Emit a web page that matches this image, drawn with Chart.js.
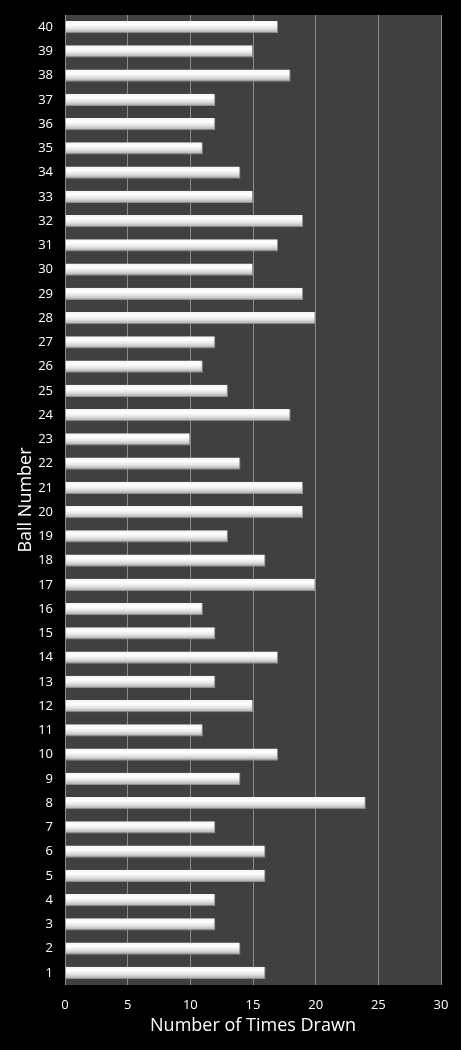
<!DOCTYPE html>
<html lang="en">
<head>
  <meta charset="UTF-8">
  <title>Ball Number Frequency</title>
  <script src="https://cdn.jsdelivr.net/npm/chart.js"></script>
  <style>
    html, body {
      margin: 0;
      padding: 0;
      background: #000;
    }
    .chart-wrap {
      width: 461px;
      height: 1050px;
      position: relative;
    }
  </style>
</head>
<body>
  <div class="chart-wrap">
    <canvas id="ballChart"></canvas>
  </div>
  <script>
    // balls 1..40 and how often each one came up
    const balls = [1, 2, 3, 4, 5, 6, 7, 8, 9, 10,
                   11, 12, 13, 14, 15, 16, 17, 18, 19, 20,
                   21, 22, 23, 24, 25, 26, 27, 28, 29, 30,
                   31, 32, 33, 34, 35, 36, 37, 38, 39, 40];
    const timesDrawn = [16, 14, 12, 12, 16, 16, 12, 24, 14, 17,
                        11, 15, 12, 17, 12, 11, 20, 16, 13, 19,
                        19, 14, 10, 18, 13, 11, 12, 20, 19, 15,
                        17, 19, 15, 14, 11, 12, 12, 18, 15, 17];
    const xTicks = [0, 5, 10, 15, 20, 25, 30];

    const fontFam = "'Open Sans', 'DejaVu Sans', sans-serif";

    // dark plot area behind the bars
    const plotBg = {
      id: 'plotBg',
      beforeDraw(chart) {
        const a = chart.chartArea;
        const ctx = chart.ctx;
        ctx.save();
        ctx.fillStyle = '#404040';
        ctx.fillRect(a.left, a.top, a.right - a.left, a.bottom - a.top);
        ctx.restore();
      }
    };

    function barFill(context) {
      const chart = context.chart;
      const y = chart.scales.y;
      if (!y || !chart.chartArea) return '#e0e0e0';
      const cy = y.getPixelForValue(context.dataIndex);
      const g = chart.ctx.createLinearGradient(0, cy - 6, 0, cy + 6);
      g.addColorStop(0, '#f4f4f4');
      g.addColorStop(0.3, '#ffffff');
      g.addColorStop(0.6, '#e6e6e6');
      g.addColorStop(1, '#a8a8a8');
      return g;
    }

    new Chart(document.getElementById('ballChart').getContext('2d'), {
      type: 'bar',
      data: {
        labels: balls,
        datasets: [{
          label: 'Number of Times Drawn',
          data: timesDrawn,
          backgroundColor: barFill,
          borderColor: '#8f8f8f',
          borderWidth: { top: 0, right: 1, bottom: 1, left: 0 },
          borderSkipped: 'start',
          categoryPercentage: 1,
          barPercentage: 0.5
        }]
      },
      options: {
        indexAxis: 'y',
        responsive: true,
        maintainAspectRatio: false,
        animation: false,
        layout: { padding: { top: 15, right: 20, bottom: 0, left: 0 } },
        plugins: {
          legend: { display: false },
          tooltip: { enabled: false }
        },
        scales: {
          x: {
            min: 0,
            max: 30,
            afterBuildTicks(scale) {
              scale.ticks = xTicks.map(v => ({ value: v }));
            },
            afterFit(scale) { scale.height = 65; },
            grid: { color: '#8c8c8c', lineWidth: 1, drawTicks: false },
            border: { display: false },
            ticks: {
              color: '#ffffff',
              padding: 12,
              font: { family: fontFam, size: 13 }
            },
            title: {
              display: true,
              text: 'Number of Times Drawn',
              color: '#ffffff',
              padding: { top: 0, bottom: 13 },
              font: { family: fontFam, size: 18 }
            }
          },
          y: {
            reverse: true,
            afterFit(scale) {
              scale.width = 65;
              scale.paddingTop = 0;
              scale.paddingBottom = 0;
            },
            grid: { display: false, drawTicks: false },
            border: { display: false },
            ticks: {
              color: '#ffffff',
              padding: 12,
              autoSkip: false,
              font: { family: fontFam, size: 13 }
            },
            title: {
              display: true,
              text: 'Ball Number',
              color: '#ffffff',
              padding: { top: 15, bottom: 0 },
              font: { family: fontFam, size: 18 }
            }
          }
        }
      },
      plugins: [plotBg]
    });
  </script>
</body>
</html>
